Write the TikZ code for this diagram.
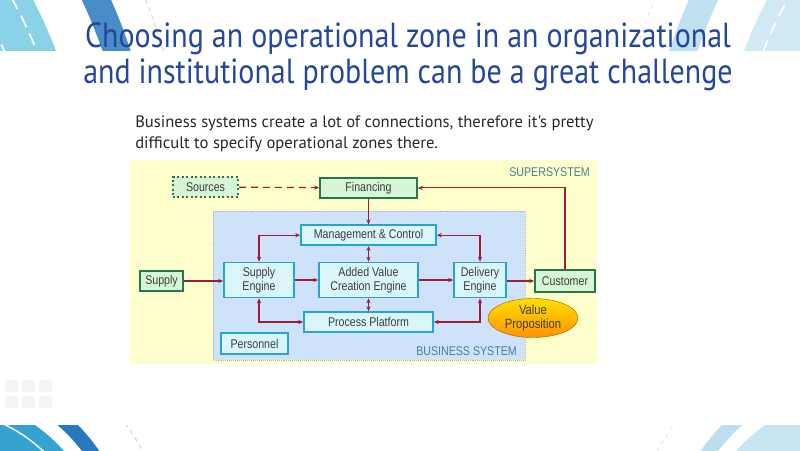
\documentclass[tikz,border=0pt]{standalone}
\usepackage{fontspec}
\setmainfont{Liberation Sans}[FakeStretch=0.84]
\newfontfamily\slidefont{PT Sans}[FakeStretch=0.86]
\newfontfamily\bodyfont{PT Sans}
\usepackage{xcolor}
\usepackage{tikz}
\usetikzlibrary{positioning, arrows.meta, shapes.geometric, calc}

\definecolor{titleblue}{RGB}{36,71,154}
\definecolor{superfill}{RGB}{255,255,206}
\definecolor{bizfill}{RGB}{206,226,250}
\definecolor{greenfill}{RGB}{214,246,214}
\definecolor{greenline}{RGB}{38,118,78}
\definecolor{cyanfill}{RGB}{216,246,251}
\definecolor{cyanline}{RGB}{38,162,212}
\definecolor{flowred}{RGB}{158,28,58}
\definecolor{labelteal}{RGB}{72,128,150}
\definecolor{boxtext}{RGB}{60,60,60}
\definecolor{decoblue}{RGB}{40,120,190}
\definecolor{decocyan}{RGB}{60,180,215}
\definecolor{decolight}{RGB}{170,215,235}

\begin{document}
\begin{tikzpicture}[
  x=0.025cm, y=-0.025cm,
  font=\fontsize{9}{10}\selectfont,
  inner/.style={draw=cyanline, fill=cyanfill, line width=1.2pt, align=center,
    text=boxtext, inner sep=1pt, minimum height=0.5cm},
  outer/.style={draw=greenline, fill=greenfill, line width=1.2pt, align=center,
    text=boxtext, inner sep=1pt, minimum height=0.5cm},
  flow/.style={draw=flowred, line width=0.8pt, -{Stealth[length=3.5pt,width=3pt]}},
  twoway/.style={draw=flowred, line width=0.8pt,
    {Stealth[length=3.5pt,width=3pt]}-{Stealth[length=3.5pt,width=3pt]}},
  zonelabel/.style={text=labelteal, inner sep=0pt},
]
  \useasboundingbox (0,0) rectangle (800,450);

  % slide decoration
  \begin{scope}
    \clip (0,0) rectangle (220,50);
    \fill[decocyan!60] (-400,225) circle (488);
    \draw[white, line width=1.2pt, dash pattern=on 9pt off 5pt] (-400,225) circle (470);
    \draw[white, line width=1.2pt, dash pattern=on 9pt off 5pt] (-400,225) circle (440);
    \draw[decoblue!85, line width=19pt] (-400,225) circle (545);
    \draw[black!12, line width=1pt, dashed] (-400,225) circle (590);
  \end{scope}
  \begin{scope}
    \clip (600,0) rectangle (800,50);
    \fill[decolight!55] (1200,225) circle (488);
    \draw[white, line width=1.2pt, dash pattern=on 9pt off 5pt] (1200,225) circle (470);
    \draw[decolight!75, line width=19pt] (1200,225) circle (545);
    \draw[black!8, line width=1pt, dashed] (1200,225) circle (590);
  \end{scope}
  \begin{scope}
    \clip (0,425) rectangle (220,450);
    \fill[decocyan!70!decoblue] (-60,560) circle (165);
    \draw[white, line width=1pt] (-60,560) circle (150);
    \draw[decoblue, line width=10pt] (-60,560) circle (186);
    \draw[black!15, line width=1pt, dashed] (-60,560) circle (230);
  \end{scope}
  \begin{scope}
    \clip (600,425) rectangle (800,450);
    \fill[decolight!65] (860,560) circle (165);
    \draw[decolight!80, line width=10pt] (860,560) circle (186);
    \draw[black!8, line width=1pt, dashed] (860,560) circle (230);
  \end{scope}
  \foreach \gx in {5,22,39} {
    \fill[black!4] (\gx,380) rectangle ++(13,12);
    \fill[black!4] (\gx,396) rectangle ++(13,12);
  }

  % heading
  \node[text=titleblue, align=center, font=\slidefont\fontsize{24.8}{25.6}\selectfont]
    (title) at (408,57) {Choosing an operational zone in an organizational\\and institutional problem can be a great challenge};
  \node[text=black!85, align=left, anchor=north west, inner sep=0pt,
    font=\bodyfont\fontsize{11.8}{15}\selectfont]
    (sub) at (135,115) {Business systems create a lot of connections, therefore it's pretty\\difficult to specify operational zones there.};

  % zones
  \fill[superfill] (130,160) rectangle (597,364);
  \draw[fill=bizfill, draw=black!30, densely dotted] (213,211) rectangle (525,360);
  \node[zonelabel, anchor=east] (supersys) at (590,172) {SUPERSYSTEM};
  \node[zonelabel, anchor=east] (bizsys) at (517,351) {BUSINESS SYSTEM};

  % boxes
  \node[inner, minimum width=2.475cm, minimum height=0.875cm] (av) at (368.5,280) {Added Value\\Creation Engine};
  \node[inner, minimum width=1.75cm, minimum height=0.875cm]  (se) at (259,280)   {Supply\\Engine};
  \node[inner, minimum width=1.3cm, minimum height=0.875cm]   (de) at (480,280)   {Delivery\\Engine};
  \node[inner, minimum width=3.375cm, above=0.39cm of av]     (mc)                {Management \& Control};
  \node[inner, minimum width=3.225cm, below=0.32cm of av]     (pp)                {Process Platform};
  \node[inner, minimum width=1.675cm, minimum height=0.525cm] (pers) at (254.5,343.5) {Personnel};
  \node[outer, minimum width=2.425cm, above=0.64cm of mc]     (fin)               {Financing};
  \node[outer, dotted, line width=1.5pt, minimum width=1.625cm] (src) at (205.5,187) {Sources};
  \node[outer, minimum width=1.075cm] (sup) at (161.5,281) {Supply};
  \node[outer, minimum width=1.5cm, minimum height=0.55cm] (cus) at (565,281) {Customer};
  \node[ellipse, draw=orange!70!black, line width=0.3pt, top color=yellow!75!orange, bottom color=orange!85!yellow,
    minimum width=2.25cm, minimum height=0.975cm, align=center, text=boxtext, inner sep=0pt,
    font=\fontsize{9.5}{10.5}\selectfont]
    (vp) at (533,318) {Value\\Proposition};

  % connections
  \draw[flow, dash pattern=on 5pt off 3.5pt] (src) -- (fin);
  \draw[flow] (cus.north) |- (fin.east);
  \draw[flow] (fin) -- (mc);
  \draw[twoway] (se.north) |- (mc.west);
  \draw[twoway] (de.north) |- (mc.east);
  \draw[twoway] (mc) -- (av);
  \draw[twoway] (av) -- (pp);
  \draw[twoway] (se.south) |- (pp.west);
  \draw[twoway] (de.south) |- (pp.east);
  \draw[flow] (sup) -- (sup -| se.west);
  \draw[flow] (se) -- (av);
  \draw[flow] (av) -- (de);
  \draw[flow] (de.east |- cus) -- (cus);
\end{tikzpicture}
\end{document}
